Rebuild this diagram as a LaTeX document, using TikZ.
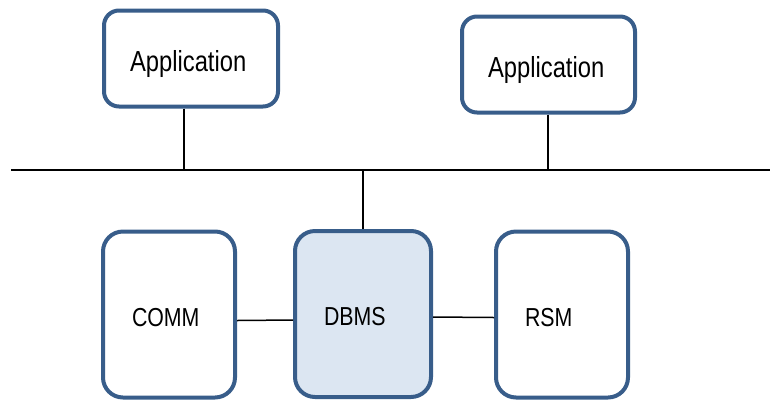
\documentclass[tikz,border=0pt]{standalone}
\usepackage{fontspec}
\setmainfont{Liberation Sans}[FakeStretch=0.82]
\usepackage{xcolor}
\usetikzlibrary{positioning}

\definecolor{boxblue}{HTML}{385D8A}
\definecolor{boxfill}{HTML}{DCE6F2}

\tikzset{
    appbox/.style={draw=boxblue, line width=4pt, rounded corners=15pt, fill=white,
        align=left, text width=122pt, inner xsep=26pt, minimum height=96pt,
        text height=28pt, text depth=2pt,
        font=\fontsize{29}{32}\selectfont},
    modbox/.style={draw=boxblue, line width=4pt, rounded corners=20pt, fill=white,
        align=left, text width=74pt, inner xsep=29pt, minimum height=166pt,
        text height=24pt, text depth=1pt,
        font=\fontsize{26}{29}\selectfont},
    wire/.style={line width=1.5pt, black}
}

\begin{document}
\begin{tikzpicture}[x=1pt, y=-1pt]
                \useasboundingbox (0, 0) rectangle (770, 400);

                % bus
                \coordinate (busL) at (11, 170);
                \coordinate (busR) at (770, 170);
                \draw[wire](busL)--(busR);

                % applications
                \node[appbox](app1) at (191, 58.5){Application};
                \node[appbox, text width=121pt](app2) at (548.5, 64.5){Application};

                % modules
                \node[modbox](comm) at (169, 314.5){COMM};
                \node[modbox, fill=boxfill, text width=78pt](dbms) at (363, 314){DBMS};
                \node[modbox](rsm) at (562, 314.5){RSM};

                \coordinate (tap1) at (184, 170);
                \coordinate (tap2) at (548, 170);
                \draw[wire](app1.south -| tap1)--(tap1);
                \draw[wire](app2.south -| tap2)--(tap2);
                \draw[wire](dbms.north)--(dbms.north |- busL);
                \draw[wire]([yshift=-6pt]comm.east)--([yshift=-6pt]dbms.west);
                \draw[wire]([yshift=-3pt]dbms.east)--([yshift=-3pt]rsm.west);
            \end{tikzpicture}
\end{document}
